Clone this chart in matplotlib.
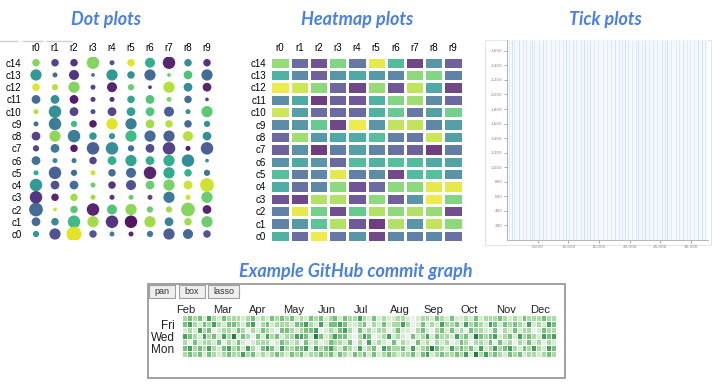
import numpy as np
import matplotlib
matplotlib.use('Agg')
import matplotlib.pyplot as plt
from matplotlib.colors import ListedColormap, BoundaryNorm
from matplotlib.patches import Rectangle
from matplotlib.ticker import FuncFormatter

# Dimensões da figura em pixels
W, H = 712, 387

# --- Dados: Dot plot (linhas c14 -> c0, colunas r0..r9) ---
cols = ['r0', 'r1', 'r2', 'r3', 'r4', 'r5', 'r6', 'r7', 'r8', 'r9']
rows = ['c14', 'c13', 'c12', 'c11', 'c10', 'c9', 'c8', 'c7', 'c6', 'c5', 'c4', 'c3', 'c2', 'c1', 'c0']

dot_color = [
    [0.80, 0.15, 0.10, 0.80, 0.20, 0.95, 0.60, 0.05, 0.45, 0.10],
    [0.50, 0.30, 0.10, 0.30, 0.50, 0.45, 0.30, 0.75, 0.70, 0.30],
    [0.95, 0.88, 0.80, 0.15, 0.05, 0.75, 0.10, 0.88, 0.45, 0.05],
    [0.30, 0.45, 0.02, 0.12, 0.08, 0.55, 0.70, 0.80, 0.32, 0.15],
    [0.88, 0.45, 0.15, 0.20, 0.15, 0.55, 0.70, 0.25, 0.45, 0.72],
    [0.30, 0.38, 0.65, 0.02, 0.95, 0.38, 0.85, 0.88, 0.30, 0.45],
    [0.15, 0.82, 0.38, 0.50, 0.50, 0.65, 0.30, 0.25, 0.88, 0.45],
    [0.15, 0.35, 0.02, 0.25, 0.45, 0.30, 0.18, 0.15, 0.02, 0.25],
    [0.32, 0.45, 0.35, 0.15, 0.60, 0.55, 0.60, 0.60, 0.45, 0.45],
    [0.60, 0.25, 0.30, 0.92, 0.30, 0.30, 0.05, 0.58, 0.62, 0.35],
    [0.50, 0.20, 0.30, 0.75, 0.10, 0.20, 0.75, 0.78, 0.92, 0.92],
    [0.10, 0.05, 0.85, 0.85, 0.10, 0.75, 0.15, 0.35, 0.92, 0.75],
    [0.30, 0.92, 0.72, 0.05, 0.70, 0.82, 0.75, 0.85, 0.80, 0.05],
    [0.30, 0.42, 0.65, 0.85, 0.10, 0.00, 0.85, 0.40, 0.85, 0.75],
    [0.50, 0.20, 0.95, 0.22, 0.40, 0.05, 0.35, 0.25, 0.30, 0.20],
]
dot_size = [
    [3.0, 3.0, 3.0, 5.0, 2.0, 3.0, 4.0, 5.0, 3.0, 3.0],
    [4.5, 2.0, 4.0, 1.5, 4.5, 3.0, 4.5, 1.5, 3.5, 4.5],
    [3.0, 2.5, 4.5, 2.0, 4.0, 2.5, 1.5, 4.5, 3.5, 3.5],
    [3.5, 3.5, 3.5, 2.0, 2.0, 3.0, 3.5, 2.0, 3.0, 1.5],
    [2.0, 5.0, 3.5, 2.0, 3.5, 3.5, 3.5, 4.0, 2.0, 4.5],
    [2.0, 5.0, 2.5, 3.0, 4.5, 4.5, 3.5, 3.0, 3.0, 2.5],
    [3.5, 4.5, 5.0, 3.0, 2.5, 4.5, 4.5, 4.5, 4.0, 3.5],
    [2.5, 3.5, 3.0, 5.0, 5.0, 2.5, 3.5, 5.0, 2.0, 5.0],
    [3.5, 2.0, 2.0, 3.0, 3.5, 4.5, 3.5, 4.5, 5.0, 1.5],
    [2.0, 5.0, 2.5, 2.0, 3.0, 4.0, 5.0, 4.5, 3.0, 2.5],
    [5.0, 3.5, 3.5, 2.0, 3.0, 4.0, 3.5, 4.5, 3.5, 5.5],
    [5.0, 3.0, 3.0, 2.0, 2.0, 2.0, 2.0, 4.5, 2.0, 4.5],
    [5.5, 1.5, 3.0, 5.0, 4.0, 4.5, 2.5, 2.5, 5.5, 3.5],
    [3.5, 3.0, 5.0, 4.5, 5.0, 5.0, 4.5, 3.5, 3.0, 4.5],
    [2.5, 4.5, 6.0, 3.0, 2.0, 2.0, 2.5, 4.5, 4.0, 3.0],
]

# --- Dados: Heatmap ---
heat_values = [
    [0.80, 0.20, 0.10, 0.75, 0.25, 0.95, 0.60, 0.05, 0.40, 0.15],
    [0.55, 0.35, 0.15, 0.40, 0.50, 0.42, 0.33, 0.78, 0.75, 0.30],
    [0.97, 0.90, 0.78, 0.18, 0.05, 0.80, 0.12, 0.88, 0.50, 0.05],
    [0.35, 0.50, 0.02, 0.15, 0.12, 0.55, 0.75, 0.82, 0.35, 0.18],
    [0.90, 0.45, 0.20, 0.20, 0.18, 0.55, 0.68, 0.25, 0.45, 0.72],
    [0.35, 0.40, 0.68, 0.05, 0.97, 0.40, 0.88, 0.88, 0.33, 0.45],
    [0.18, 0.82, 0.42, 0.50, 0.52, 0.62, 0.30, 0.25, 0.90, 0.45],
    [0.15, 0.38, 0.02, 0.28, 0.45, 0.32, 0.22, 0.15, 0.02, 0.28],
    [0.38, 0.50, 0.40, 0.18, 0.60, 0.55, 0.62, 0.60, 0.50, 0.47],
    [0.62, 0.28, 0.33, 0.95, 0.30, 0.35, 0.06, 0.60, 0.62, 0.38],
    [0.52, 0.22, 0.33, 0.78, 0.10, 0.20, 0.78, 0.78, 0.95, 0.95],
    [0.10, 0.05, 0.85, 0.85, 0.12, 0.78, 0.15, 0.40, 0.97, 0.75],
    [0.30, 0.95, 0.72, 0.08, 0.68, 0.85, 0.78, 0.85, 0.80, 0.08],
    [0.30, 0.42, 0.65, 0.85, 0.12, 0.02, 0.85, 0.40, 0.88, 0.78],
    [0.55, 0.20, 0.97, 0.25, 0.40, 0.06, 0.33, 0.30, 0.33, 0.22],
]

# --- Dados: Tick plot (faixas verticais) ---
tick_x = [300, 708, 1150, 1962, 2500, 3100, 3700, 3980, 4400, 5200, 5886, 6300,
          7100, 7800, 8400, 9100, 9592, 10100, 10682, 11300, 12000, 12535, 13000,
          13516, 14200, 14900, 15600, 16300, 16900, 17604, 18200, 18700, 19239,
          19800, 20400, 21000, 21419, 22000, 22509, 23100, 23800, 24500, 25234,
          25700, 26051, 26800, 27500, 28100, 28776, 29300, 29900, 30500, 31229,
          31774, 32300]
tick_w = [1, 2, 1, 2, 1, 1, 1, 2, 1, 1, 2, 1,
          1, 1, 1, 1, 2, 1, 2, 1, 1, 2, 1,
          2, 1, 1, 1, 1, 1, 2, 1, 1, 2,
          1, 1, 1, 2, 1, 2, 1, 1, 1, 2,
          1, 2, 1, 1, 1, 2, 1, 1, 1, 2,
          2, 1]
tick_yticks = [200, 400, 600, 800, 1000, 1200, 1400, 1600, 1800, 2000, 2200, 2400, 2600]
tick_xticks = [5000, 10000, 15000, 20000, 25000, 30000]

# --- Dados: GitHub commit graph (7 dias x 77 colunas, nível 0-5) ---
days = ['Sat', 'Fri', 'Thu', 'Wed', 'Tue', 'Mon', 'Sun']
day_labels = ['', 'Fri', '', 'Wed', '', 'Mon', '']
commit_rows = [
    "23231421322" "21231213232" "31213231231" "32242131211" "22101221321" "31121312223" "21213222322",
    "34213242133" "21340231222" "13342141334" "31123021312" "24201312142" "23142321431" "32321412143",
    "12142301221" "32021321033" "21233401213" "42031212201" "31102310231" "31203221130" "21312201322",
    "43214231425" "13203142312" "24431531243" "31024301241" "21031241322" "14231532341" "23142321434",
    "20312213021" "31012220132" "12031201322" "13020412103" "02103120212" "01320221303" "12021312021",
    "34232421342" "31420343142" "23341423421" "32141230432" "23141235321" "42323141242" "34213242143",
    "23231321232" "24231212321" "32312232313" "21323131232" "12231341232" "23241524232" "13231221232",
]
commits = np.array([[int(c) for c in r] for r in commit_rows])
months = ['Feb', 'Mar', 'Apr', 'May', 'Jun', 'Jul', 'Aug', 'Sep', 'Oct', 'Nov', 'Dec']
month_cols = [0.2, 7.7, 14.9, 22.4, 29.2, 36.3, 44.3, 51.3, 58.5, 66.1, 73.3]

TITLE_COLOR = '#4a80e4'
LABEL_FONT = ['Liberation Sans', 'DejaVu Sans']


def px_rect(x0, y0, x1, y1):
    # converte retângulo em pixels (origem no topo) para fração da figura
    return [x0 / W, 1 - y1 / H, (x1 - x0) / W, (y1 - y0) / H]


fig = plt.figure(figsize=(W / 100, H / 100), dpi=100)

# Eixo de fundo em coordenadas de pixel (títulos, molduras, botões)
bg = fig.add_axes([0, 0, 1, 1])
bg.set_xlim(0, W)
bg.set_ylim(H, 0)
bg.axis('off')

title_kw = dict(color=TITLE_COLOR, fontsize=13, fontweight='bold', fontstyle='italic',
                family=['Lato', 'DejaVu Sans'], ha='center', va='center')
bg.text(106, 20, 'Dot plots', **title_kw)
bg.text(357, 20, 'Heatmap plots', **title_kw)
bg.text(605, 20, 'Tick plots', **title_kw)
bg.text(356, 271, 'Example GitHub commit graph', **title_kw)

# linhas cinza no canto superior esquerdo
for a, b in [(0, 17), (23, 42), (47, 72)]:
    bg.plot([a, b], [41, 41], color='#d0d0d0', lw=1)

# moldura do tick plot
bg.add_patch(Rectangle((485, 40), 226, 205, fill=False, edgecolor='#e6e6e6', lw=0.8))

# moldura do commit graph e botões
bg.add_patch(Rectangle((147.5, 283.5), 417.5, 94, fill=False, edgecolor='#9a9a9a', lw=1.3))
for label, x0, x1 in [('pan', 149, 175), ('box', 179, 205), ('lasso', 208, 239)]:
    bg.add_patch(Rectangle((x0, 284.5), x1 - x0, 13.5, facecolor='#efefef', edgecolor='#a0a0a0', lw=0.8))
    bg.text((x0 + x1) / 2, 291.5, label, fontsize=6.5, ha='center', va='center',
            color='#333333', family=LABEL_FONT)

# --- Dot plot ---
ax1 = fig.add_axes(px_rect(26.5, 56.6, 216.5, 240.1))
xx, yy = np.meshgrid(np.arange(len(cols)), np.arange(len(rows))[::-1])
ax1.scatter(xx.ravel(), yy.ravel(), c=np.array(dot_color).ravel(), cmap='viridis',
            vmin=0, vmax=1, s=(1.8 * np.array(dot_size).ravel()) ** 2, alpha=0.92, linewidths=0)
ax1.set_xlim(-0.5, len(cols) - 0.5)
ax1.set_ylim(-0.5, len(rows) - 0.5)
ax1.set_xticks(range(len(cols)), cols)
ax1.set_yticks(range(len(rows)), rows[::-1])
ax1.xaxis.tick_top()
ax1.tick_params(length=0, labelsize=7, pad=2.5)
ax1.tick_params(axis='y', pad=3.5)
for lab in ax1.get_xticklabels() + ax1.get_yticklabels():
    lab.set_family(LABEL_FONT)
for s in ax1.spines.values():
    s.set_visible(False)

# --- Heatmap ---
ax2 = fig.add_axes(px_rect(270.4, 56.5, 462.6, 242.2))
vir = plt.get_cmap('viridis')(np.linspace(0, 1, 256))
faded = ListedColormap(vir[:, :3] * 0.78 + 0.22)
ax2.pcolormesh(np.array(heat_values)[::-1], cmap=faded, vmin=0, vmax=1,
               edgecolors='white', linewidth=1.0)
ax2.set_xlim(0, len(cols))
ax2.set_ylim(0, len(rows))
ax2.set_xticks(np.arange(len(cols)) + 0.5, cols)
ax2.set_yticks(np.arange(len(rows)) + 0.5, rows[::-1])
ax2.xaxis.tick_top()
ax2.tick_params(length=0, labelsize=7, pad=2.5)
ax2.tick_params(axis='y', pad=3)
for lab in ax2.get_xticklabels() + ax2.get_yticklabels():
    lab.set_family(LABEL_FONT)
for s in ax2.spines.values():
    s.set_visible(False)

# --- Tick plot ---
ax3 = fig.add_axes(px_rect(507.3, 40, 708, 239.8))
ax3.set_facecolor('#f5f8fc')
for x, w in zip(tick_x, tick_w):
    ax3.vlines(x, 0, 2750, color='#b5d3ee', alpha=0.15 + 0.2 * w, lw=0.7)
ax3.set_xlim(0, 32800)
ax3.set_ylim(0, 2750)
ax3.set_xticks(tick_xticks)
ax3.set_yticks(tick_yticks)
fmt = FuncFormatter(lambda v, p: f'{int(v):,}')
ax3.xaxis.set_major_formatter(fmt)
ax3.yaxis.set_major_formatter(fmt)
ax3.tick_params(labelsize=3, colors='#888888', length=2, width=0.5, pad=1.5)
for s in ['top', 'right']:
    ax3.spines[s].set_visible(False)
for s in ['left', 'bottom']:
    ax3.spines[s].set_color('#aaaaaa')
    ax3.spines[s].set_linewidth(0.6)

# --- GitHub commit graph ---
ax4 = fig.add_axes(px_rect(182.7, 316, 556, 357.3))
greens = ListedColormap(['#eeeff3', '#d3edcf', '#a8dca3', '#74c27c', '#45a25c', '#257c45'])
gnorm = BoundaryNorm(np.arange(-0.5, 6.5), 6)
for i in range(len(days)):
    ax4.bar(np.arange(commits.shape[1]) + 0.5, 0.84, width=0.8, bottom=i + 0.08,
            color=greens(gnorm(commits[i])), linewidth=0)
ax4.set_xlim(0, commits.shape[1])
ax4.set_ylim(len(days), 0)
ax4.set_xticks([m + 0.5 for m in month_cols], months)
ax4.set_yticks(np.arange(len(days)) + 0.5, day_labels)
ax4.xaxis.tick_top()
ax4.tick_params(length=0, labelsize=8, pad=0.5, colors='#222222')
ax4.tick_params(axis='y', labelsize=8.5, pad=6)
for lab in ax4.get_xticklabels() + ax4.get_yticklabels():
    lab.set_family(LABEL_FONT)
for s in ax4.spines.values():
    s.set_visible(False)

fig.savefig('out.png', dpi=100)
